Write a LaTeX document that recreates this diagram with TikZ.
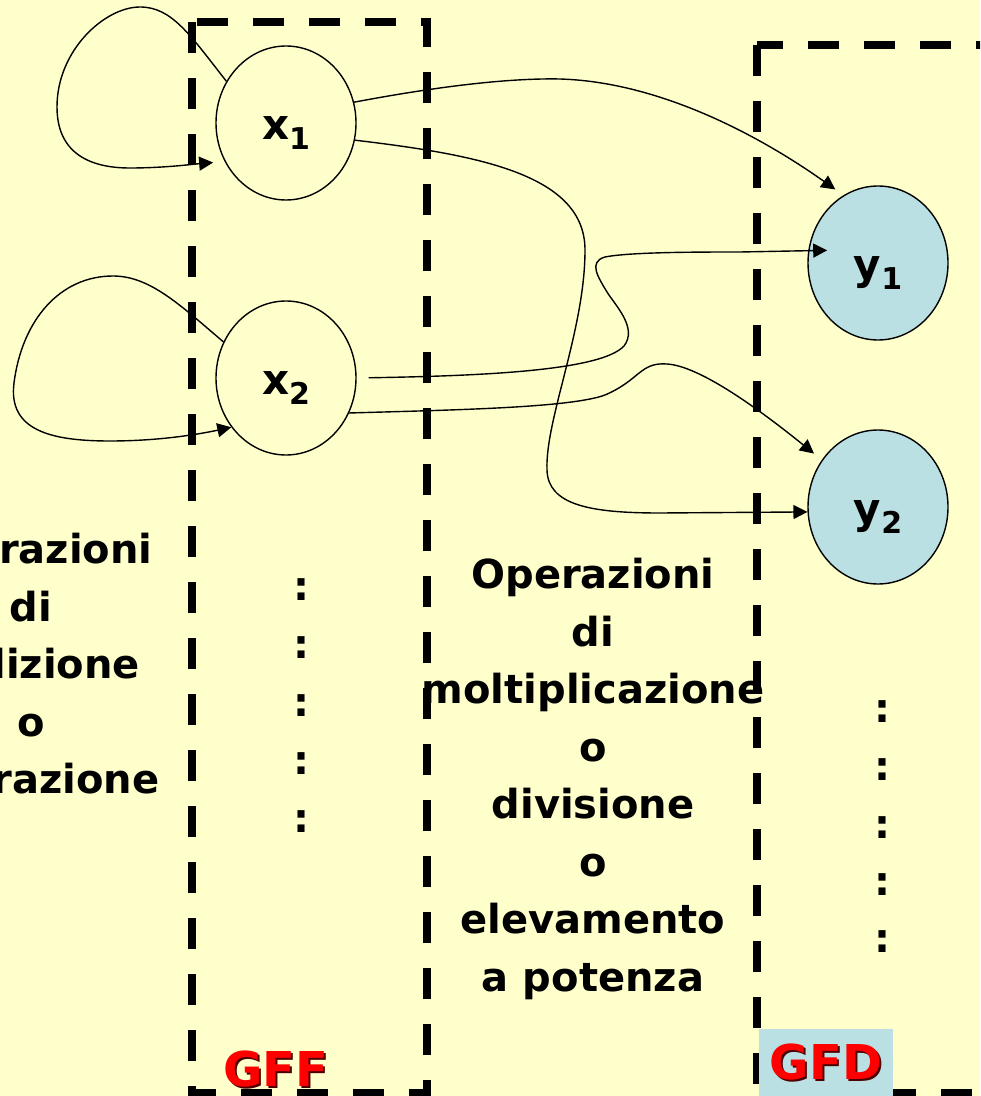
\documentclass[tikz,border=0pt]{standalone}
\usepackage{fontspec}
\setmainfont{DejaVu Sans}
\usetikzlibrary{positioning, arrows.meta, shapes.geometric}
\definecolor{paper}{HTML}{FFFFCC}
\definecolor{sky}{HTML}{BBE0E3}
\newcommand{\vlbl}[2]{\raisebox{-5pt}[\height][\depth]{{\fontsize{21}{21}\selectfont #1}\raisebox{-5pt}{\fontsize{15}{15}\selectfont #2}}}
\newcommand{\shadowed}[1]{\rlap{\kern1pt\raisebox{-1pt}{\textcolor{red!30!black}{#1}}}#1}
\tikzset{
  state/.style={draw, ellipse, line width=0.7pt, minimum width=70pt, minimum height=77pt, inner sep=0pt, font=\bfseries},
  outvar/.style={state, fill=sky},
  zone/.style={draw, line width=4pt, dash pattern=on 15.5pt off 12.5pt},
  arr/.style={-{Triangle[length=7pt, width=7pt]}, line width=0.7pt},
  ops/.style={align=center, font=\bfseries\fontsize{20}{28.75}\selectfont},
  dots/.style={font=\bfseries\fontsize{20}{20}\selectfont},
  tag/.style={font=\bfseries\fontsize{24}{24}\selectfont, text=red}
}
\begin{document}
\begin{tikzpicture}[x=0.5pt, y=-0.5pt]
\fill[paper] (0,0) rectangle (980,1096);
\useasboundingbox (0,0) rectangle (980,1096);
\clip (0,0) rectangle (980,1096);
\draw[zone] (192,22) rectangle (427,1093);
\draw[zone] (757,45) rectangle (1010,1093);
\node[state] (x1) at (286,123) {\vlbl{x}{1}};
\node[state] (x2) at (286,378) {\vlbl{x}{2}};
\node[outvar] (y1) at (878,263) {\vlbl{y}{1}};
\node[outvar] (y2) at (878,507) {\vlbl{y}{2}};
\node[ops] (add) at (31,664) {Operazioni\\di\\addizione\\o\\sottrazione};
\node[ops] (mul) at (593,779) {Operazioni\\di\\moltiplicazione\\o\\divisione\\o\\elevamento\\a potenza};
\foreach \i/\y in {1/590,2/648,3/706,4/764,5/822}{
  \node[dots] (ffdot\i) at (301,\y) {:};
}
\foreach \i/\y in {1/712,2/770,3/828,4/885,5/942}{
  \node[dots] (fddot\i) at (882,\y) {:};
}
\node[tag] (gff) at (276,1070) {\shadowed{GFF}};
\node[tag, fill=sky, minimum width=67pt, minimum height=34pt] (gfd) at (826,1063) {\shadowed{GFD}};
\draw[arr] (x1.145) .. controls (190,35) and (172,7) .. (140,7) .. controls (105,7) and (57,50) .. (57,107)
  .. controls (57,160) and (100,168) .. (130,168) .. controls (165,168) and (195,164) .. ([xshift=-6pt]x1.213);
\draw[arr] (x2.150) .. controls (180,305) and (150,276) .. (113,276) .. controls (60,276) and (22,320) .. (14,383)
  .. controls (8,430) and (50,441) .. (110,441) .. controls (160,441) and (200,434) .. (x2.222);
\draw[arr, shorten >=5pt] (x1.17) .. controls (440,86) and (510,78) .. (560,79) .. controls (660,82) and (760,136) .. (y1.117);
\draw[arr] (x1.-14) .. controls (480,155) and (585,175) .. (585,250) .. controls (585,330) and (545,420) .. (547,470)
  .. controls (548,505) and (590,513) .. (660,513) -- (y2.184);
\draw[arr, shorten <=6pt, shorten >=-9.5pt] (x2.east) .. controls (470,376) and (600,372) .. (624,346)
  .. controls (638,328) and (615,305) .. (607,292) .. controls (598,277) and (588,262) .. (605,257)
  .. controls (630,252) and (700,252) .. (740,252) -- (y1.170);
\draw[arr, shorten >=5pt] (x2.-29) .. controls (450,410) and (570,408) .. (605,395) .. controls (640,380) and (640,362) .. (667,364)
  .. controls (700,366) and (760,410) .. (y2.140);
\end{tikzpicture}
\end{document}
